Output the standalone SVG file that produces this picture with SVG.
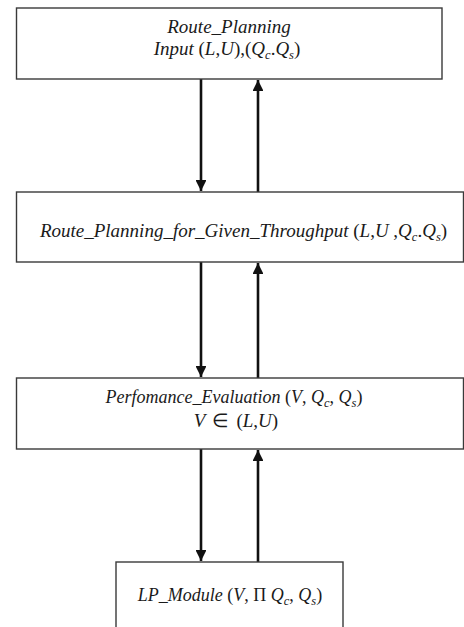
<svg xmlns="http://www.w3.org/2000/svg" width="464" height="627" viewBox="0 0 464 627">
  <style>
    .box { fill: #ffffff; stroke: #3a3a3a; stroke-width: 1.4; }
    .lbl { font-family: "Liberation Serif", "Times New Roman", serif; font-size: 18px; fill: #1a1a1a; text-anchor: middle; }
    .big { font-size: 19px; }
    .it { font-style: italic; }
    .sub { font-style: italic; font-size: 12.5px; }
    .flow { stroke: #111111; stroke-width: 2.6; fill: none; }
  </style>
  <defs>
    <marker id="head" viewBox="0 0 10 10" refX="10" refY="5" markerWidth="4.4" markerHeight="4.2" markerUnits="strokeWidth" orient="auto">
      <path d="M0,0 L10,5 L0,10 Z" fill="#111111"/>
    </marker>
  </defs>
  <rect width="464" height="627" fill="#ffffff"/>

  <g id="connectors">
    <line class="flow" x1="201" y1="79" x2="201" y2="191" marker-end="url(#head)"/>
    <line class="flow" x1="258" y1="192" x2="258" y2="80" marker-end="url(#head)"/>
    <line class="flow" x1="201" y1="262" x2="201" y2="377" marker-end="url(#head)"/>
    <line class="flow" x1="258" y1="378" x2="258" y2="263" marker-end="url(#head)"/>
    <line class="flow" x1="201" y1="449" x2="201" y2="561" marker-end="url(#head)"/>
    <line class="flow" x1="258" y1="562" x2="258" y2="450" marker-end="url(#head)"/>
  </g>

  <g id="route-planning">
    <rect class="box" x="16.5" y="8" width="425.5" height="71"/>
    <text class="lbl big" x="229" y="33"><tspan class="it">Route_Planning</tspan></text>
    <text class="lbl big" x="227" y="55"><tspan class="it">Input</tspan> (<tspan class="it">L</tspan>,<tspan class="it">U</tspan>),(<tspan class="it">Q</tspan><tspan class="sub" dy="4">c</tspan><tspan dy="-4">.</tspan><tspan class="it">Q</tspan><tspan class="sub" dy="4">s</tspan><tspan dy="-4">)</tspan></text>
  </g>

  <g id="route-planning-throughput">
    <rect class="box" x="16.5" y="192" width="447" height="70"/>
    <text class="lbl big" x="243.5" y="237"><tspan class="it">Route_Planning_for_Given_Throughput</tspan> (<tspan class="it">L</tspan>,<tspan class="it">U</tspan> ,<tspan class="it">Q</tspan><tspan class="sub" dy="4">c</tspan><tspan dy="-4">.</tspan><tspan class="it">Q</tspan><tspan class="sub" dy="4">s</tspan><tspan dy="-4">)</tspan></text>
  </g>

  <g id="performance-evaluation">
    <rect class="box" x="16.5" y="378" width="447" height="71"/>
    <text class="lbl" x="234" y="403"><tspan class="it">Perfomance_Evaluation</tspan> (<tspan class="it">V</tspan>, <tspan class="it">Q</tspan><tspan class="sub" dy="4">c</tspan><tspan dy="-4">, </tspan><tspan class="it">Q</tspan><tspan class="sub" dy="4">s</tspan><tspan dy="-4">)</tspan></text>
    <text class="lbl big" x="236" y="427"><tspan class="it">V</tspan><tspan dx="7">∈</tspan><tspan dx="7">(</tspan><tspan class="it">L</tspan>,<tspan class="it">U</tspan>)</text>
  </g>

  <g id="lp-module">
    <rect class="box" x="116" y="562" width="227" height="80"/>
    <text class="lbl" x="230" y="601"><tspan class="it">LP_Module</tspan> (<tspan class="it">V</tspan>, Π <tspan class="it">Q</tspan><tspan class="sub" dy="4">c</tspan><tspan dy="-4">, </tspan><tspan class="it">Q</tspan><tspan class="sub" dy="4">s</tspan><tspan dy="-4">)</tspan></text>
  </g>
</svg>
